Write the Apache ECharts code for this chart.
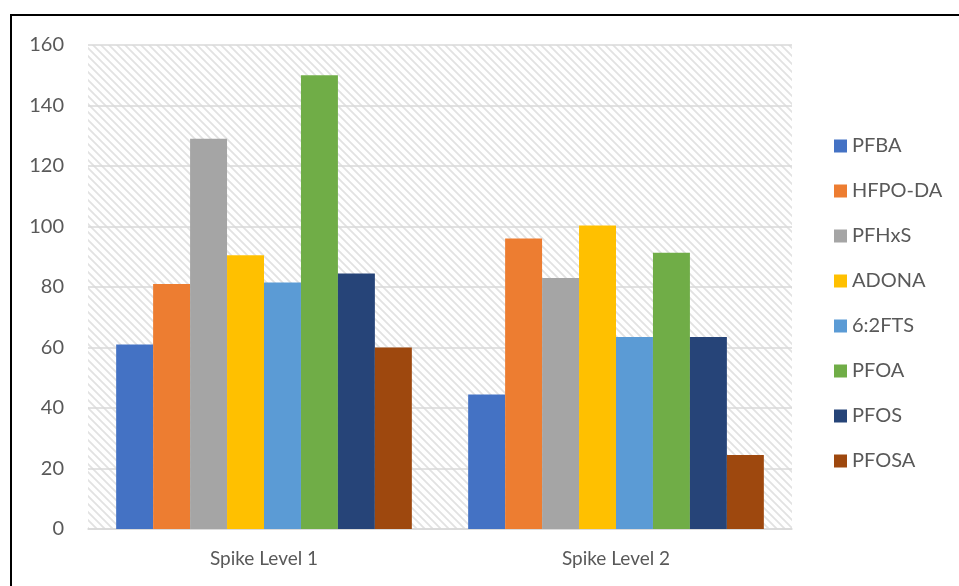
<!DOCTYPE html>
<html>
<head>
<meta charset="utf-8">
<script src="https://cdn.jsdelivr.net/npm/echarts@6/dist/echarts.min.js"></script>
<style>
  html, body { margin: 0; padding: 0; background: #ffffff; }
  #chart { width: 959px; height: 586px; }
</style>
</head>
<body>
<div id="chart"></div>
<script>
// Spike recovery by compound for two spike levels
const categories = ['Spike Level 1', 'Spike Level 2'];
const compounds = ['PFBA', 'HFPO-DA', 'PFHxS', 'ADONA', '6:2FTS', 'PFOA', 'PFOS', 'PFOSA'];
const PFBA    = [61, 44.5];
const HFPO_DA = [81, 96];
const PFHxS   = [129, 83];
const ADONA   = [90.5, 100.3];
const FTS62   = [81.5, 63.5];
const PFOA    = [150, 91.3];
const PFOS    = [84.5, 63.5];
const PFOSA   = [60, 24.5];
const seriesValues = [PFBA, HFPO_DA, PFHxS, ADONA, FTS62, PFOA, PFOS, PFOSA];
const colors = ['#4472c4', '#ed7d31', '#a5a5a5', '#ffc000', '#5b9bd5', '#70ad47', '#264478', '#9e480e'];
const yTicks = { min: 0, max: 160, interval: 20 };

// diagonal hatch used as the plot background
function hatchPattern() {
  const c = document.createElement('canvas');
  c.width = 8; c.height = 8;
  const g = c.getContext('2d');
  g.fillStyle = '#ffffff';
  g.fillRect(0, 0, 8, 8);
  g.strokeStyle = '#e2e2e2';
  g.lineWidth = 1.8;
  g.beginPath();
  g.moveTo(-2, -2); g.lineTo(10, 10);
  g.moveTo(-10, -2); g.lineTo(2, 10);
  g.moveTo(6, -2); g.lineTo(18, 10);
  g.stroke();
  return c;
}

const font = 'Lato, "Open Sans", sans-serif';
const chart = echarts.init(document.getElementById('chart'));
chart.setOption({
  animation: false,
  backgroundColor: '#ffffff',
  textStyle: { fontFamily: font },
  graphic: [
    { type: 'line', shape: { x1: 11, y1: 15, x2: 959, y2: 15 }, style: { stroke: '#000', lineWidth: 2 } },
    { type: 'line', shape: { x1: 11, y1: 14, x2: 11, y2: 586 }, style: { stroke: '#000', lineWidth: 2 } }
  ],
  grid: {
    left: 88, right: 167, top: 45, bottom: 57,
    show: true,
    borderWidth: 0,
    backgroundColor: { image: hatchPattern(), repeat: 'repeat' }
  },
  legend: {
    orient: 'vertical',
    left: 829,
    top: 131,
    itemWidth: 13,
    itemHeight: 13,
    itemGap: 25,
    icon: 'rect',
    textStyle: { fontFamily: font, fontSize: 20, color: '#595959', padding: [0, 0, 0, 0] },
    data: compounds
  },
  xAxis: {
    type: 'category',
    data: categories,
    axisLine: { lineStyle: { color: '#d9d9d9', width: 1.5 } },
    axisTick: { show: false },
    axisLabel: { fontFamily: font, fontSize: 19, color: '#595959', margin: 20 }
  },
  yAxis: {
    type: 'value',
    min: yTicks.min, max: yTicks.max, interval: yTicks.interval,
    axisLine: { show: false },
    axisTick: { show: false },
    splitLine: { lineStyle: { color: '#d9d9d9', width: 1.5 } },
    axisLabel: { fontFamily: font, fontSize: 20, color: '#595959', margin: 24 }
  },
  series: compounds.map((name, i) => ({
    name: name,
    type: 'bar',
    data: seriesValues[i],
    barGap: '0%',
    barCategoryGap: '16%',
    itemStyle: { color: colors[i] }
  }))
});
</script>
</body>
</html>
